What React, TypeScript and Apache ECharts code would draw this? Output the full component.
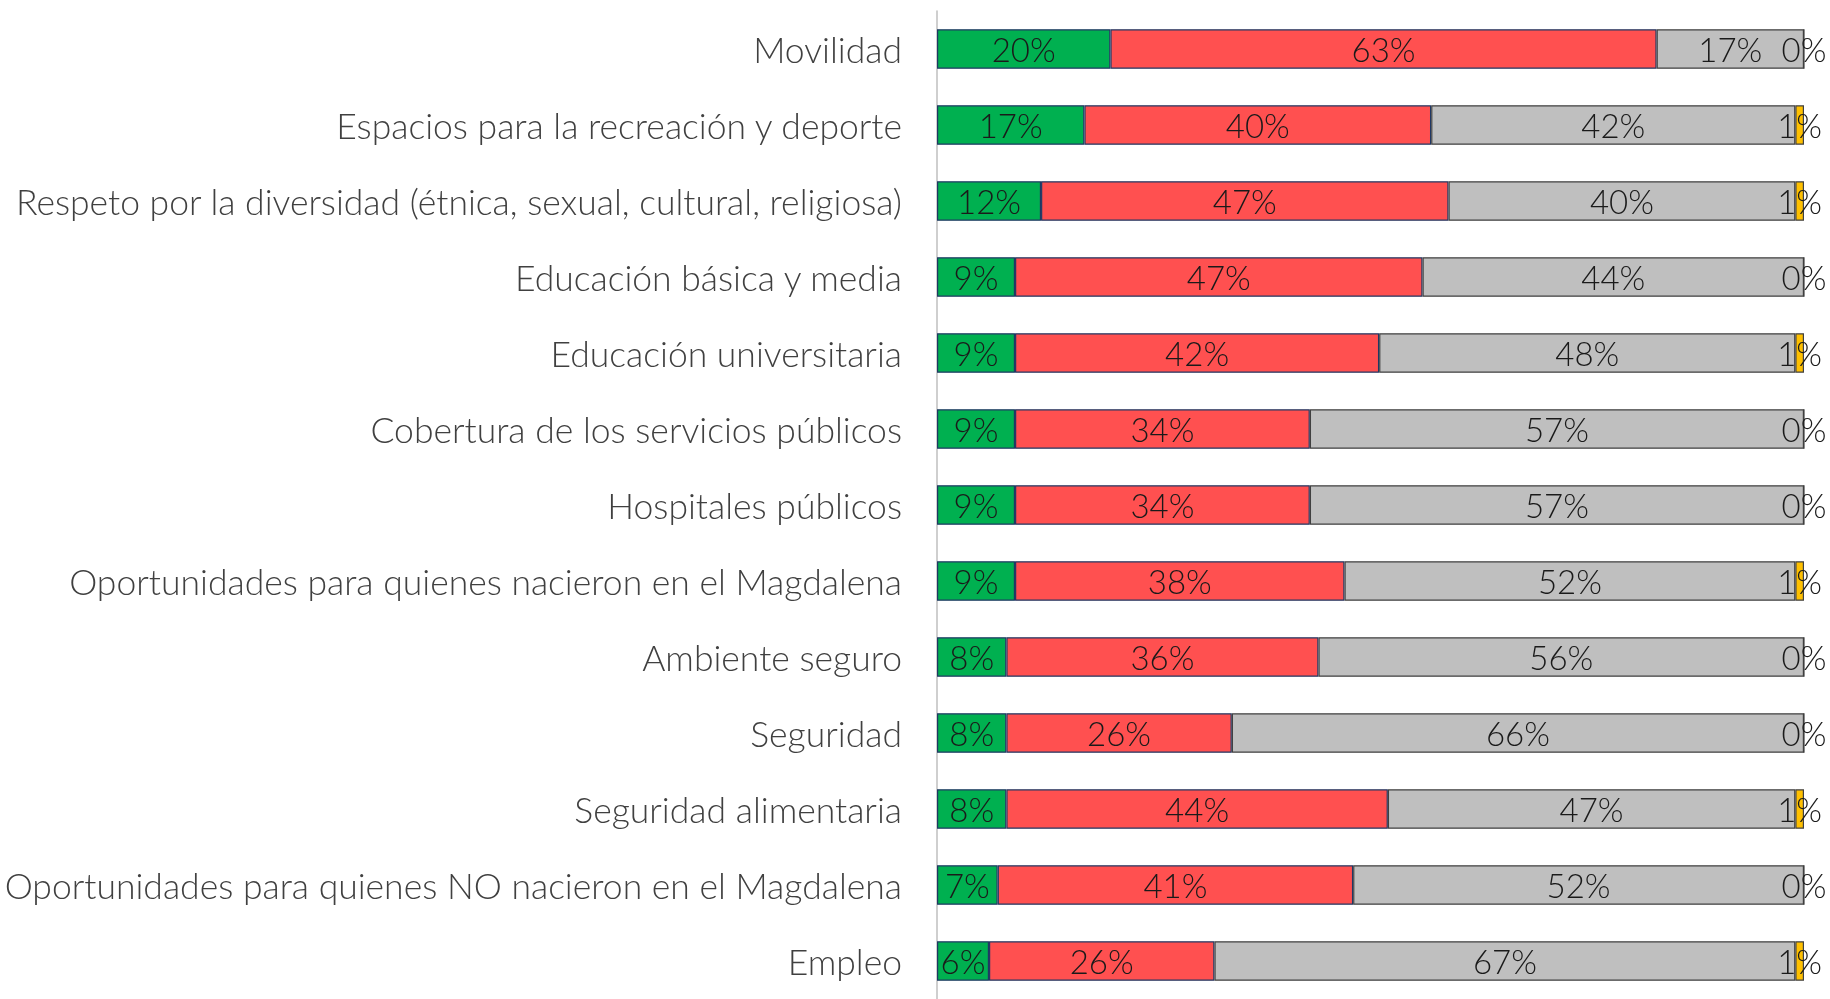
import React, { useEffect, useRef } from "react";
import * as echarts from "echarts";

const categories = [
  "Movilidad",
  "Espacios para la recreación y deporte",
  "Respeto por la diversidad (étnica, sexual, cultural, religiosa)",
  "Educación básica y media",
  "Educación universitaria",
  "Cobertura de los servicios públicos",
  "Hospitales públicos",
  "Oportunidades para quienes nacieron en el Magdalena",
  "Ambiente seguro",
  "Seguridad",
  "Seguridad alimentaria",
  "Oportunidades para quienes NO nacieron en el Magdalena",
  "Empleo",
];

const greenValues = [20, 17, 12, 9, 9, 9, 9, 9, 8, 8, 8, 7, 6];
const redValues = [63, 40, 47, 47, 42, 34, 34, 38, 36, 26, 44, 41, 26];
const greyValues = [17, 42, 40, 44, 48, 57, 57, 52, 56, 66, 47, 52, 67];
const yellowValues = [0, 1, 1, 0, 1, 0, 0, 1, 0, 0, 1, 0, 1];

const FONT = "Lato";

export default function App() {
  const ref = useRef<HTMLDivElement>(null);
  useEffect(() => {
    if (!ref.current) return;
    const chart = echarts.init(ref.current, undefined, { renderer: "svg" });
    const label = {
      show: true,
      position: "inside",
      formatter: "{c}%",
      color: "#1a1a1a",
      fontSize: 33,
      fontWeight: 300,
      fontFamily: FONT,
    };
    const mk = (name: string, data: number[], color: string, border: string) => ({
      name,
      type: "bar",
      stack: "total",
      data,
      barWidth: "52%",
      itemStyle: { color, borderColor: border, borderWidth: 1.2 },
      label,
    });
    chart.setOption({
      animation: false,
      grid: { left: 937, right: 26, top: 11, bottom: -9, containLabel: false },
      xAxis: { type: "value", min: 0, max: 100, show: false },
      yAxis: {
        type: "category",
        data: categories,
        inverse: true,
        axisLine: { show: true, lineStyle: { color: "#BFBFBF", width: 1.5 } },
        axisTick: { show: false },
        axisLabel: {
          color: "#404040",
          fontSize: 35.5,
          fontWeight: 300,
          fontFamily: FONT,
          margin: 35,
        },
      },
      series: [
        mk("Bueno", greenValues, "#00B050", "#203864"),
        mk("Malo", redValues, "#FF5050", "#203864"),
        mk("Igual", greyValues, "#BFBFBF", "#404040"),
        mk("NS/NR", yellowValues, "#FFC000", "#404040"),
      ],
    });
    return () => chart.dispose();
  }, []);
  return (
    <div
      ref={ref}
      style={{ position: "fixed", left: 0, top: 0, width: 1830, height: 999 }}
    />
  );
}
